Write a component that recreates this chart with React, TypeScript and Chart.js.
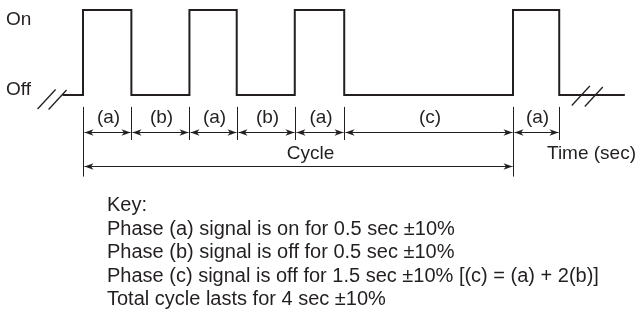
import React, { useEffect, useRef } from "react";
import { Chart, registerables } from "chart.js";

Chart.register(...registerables);

// Signal (time in seconds, level: 1 = On, 0 = Off)
const signalTimes = [-0.19, 0, 0.45, 0.99, 1.43, 1.97, 2.43, 4.0, 4.43, 5.04];
const signalLevels = [0, 1, 0, 1, 0, 1, 0, 1, 0, 0];
const levelLabels = ["On", "Off"];
const levelValues = [1, 0];

// Phase dimensioning
const phaseEdges = [0, 0.45, 0.99, 1.43, 1.97, 2.43, 4.0, 4.43];
const phaseLabels = ["(a)", "(b)", "(a)", "(b)", "(a)", "(c)", "(a)"];
const cycleBounds = [0, 4.0];
const cycleLabel = "Cycle";
const axisLabel = "Time (sec)";

const keyLines = [
  "Key:",
  "Phase (a) signal is on for 0.5 sec \u00b110%",
  "Phase (b) signal is off for 0.5 sec \u00b110%",
  "Phase (c) signal is off for 1.5 sec \u00b110% [(c) = (a) + 2(b)]",
  "Total cycle lasts for 4 sec \u00b110%",
];

const INK = "#231f20";
const FONT = '19px "Liberation Sans", Arial, sans-serif';
const KEY_FONT = '20px "Liberation Sans", Arial, sans-serif';

// level-units of the annotation rows (below the Off level)
const TICK_TOP = -0.14;
const TICK_BOTTOM = -0.53;
const TICK_BOTTOM_LONG = -0.96;
const PHASE_ARROW_Y = -0.435;
const CYCLE_ARROW_Y = -0.835;

function arrowHead(ctx: CanvasRenderingContext2D, tipX: number, y: number, dir: number) {
  const L = 9;
  const W = 3.2;
  ctx.beginPath();
  ctx.moveTo(tipX, y);
  ctx.lineTo(tipX - dir * L, y - W);
  ctx.lineTo(tipX - dir * (L - 2.5), y);
  ctx.lineTo(tipX - dir * L, y + W);
  ctx.closePath();
  ctx.fill();
}

function dimArrow(ctx: CanvasRenderingContext2D, x1: number, x2: number, y: number) {
  ctx.beginPath();
  ctx.moveTo(x1 + 1, y);
  ctx.lineTo(x2 - 1, y);
  ctx.stroke();
  arrowHead(ctx, x1 + 1, y, -1);
  arrowHead(ctx, x2 - 1, y, 1);
}

const annotations = {
  id: "timingAnnotations",
  afterDraw(chart: any) {
    const ctx: CanvasRenderingContext2D = chart.ctx;
    const xs = chart.scales.x;
    const ys = chart.scales.y;
    const px = (v: number) => xs.getPixelForValue(v);
    const py = (v: number) => ys.getPixelForValue(v);
    ctx.save();
    ctx.strokeStyle = INK;
    ctx.fillStyle = INK;
    ctx.lineWidth = 1;

    // ticks
    phaseEdges.forEach((t) => {
      const long = cycleBounds.includes(t);
      const x = Math.round(px(t)) + 0.5;
      ctx.beginPath();
      ctx.moveTo(x, py(TICK_TOP));
      ctx.lineTo(x, py(long ? TICK_BOTTOM_LONG : TICK_BOTTOM));
      ctx.stroke();
    });

    // phase arrows + labels
    ctx.font = FONT;
    ctx.textAlign = "center";
    ctx.textBaseline = "alphabetic";
    for (let i = 0; i < phaseLabels.length; i++) {
      const x1 = Math.round(px(phaseEdges[i])) + 0.5;
      const x2 = Math.round(px(phaseEdges[i + 1])) + 0.5;
      const y = Math.round(py(PHASE_ARROW_Y)) + 0.5;
      dimArrow(ctx, x1, x2, y);
      ctx.fillText(phaseLabels[i], (x1 + x2) / 2 + 1, y - 9.5);
    }

    // cycle arrow
    {
      const x1 = Math.round(px(cycleBounds[0])) + 0.5;
      const x2 = Math.round(px(cycleBounds[1])) + 0.5;
      const y = Math.round(py(CYCLE_ARROW_Y)) + 0.5;
      dimArrow(ctx, x1, x2, y);
      ctx.fillText(cycleLabel, (x1 + x2) / 2 + 12, y - 8);
      ctx.textAlign = "right";
      ctx.fillText(axisLabel, 636, y - 8);
    }

    // level labels
    ctx.textAlign = "left";
    levelLabels.forEach((lab, i) => {
      ctx.fillText(lab, 6, py(levelValues[i]) + (i === 0 ? 15 : 0));
    });

    // break marks
    ctx.lineWidth = 1.3;
    const sx0 = px(signalTimes[0]);
    const sx1 = px(signalTimes[signalTimes.length - 1]);
    const off = py(0);
    const slash = (x: number, y: number) => {
      ctx.beginPath();
      ctx.moveTo(x - 9, y + 10);
      ctx.lineTo(x + 9, y - 9.5);
      ctx.stroke();
    };
    slash(sx0 - 16, off + 4);
    slash(sx0 - 5, off + 4.5);
    slash(sx1 - 44, off + 0.5);
    slash(sx1 - 31, off + 1.5);

    // key
    ctx.font = KEY_FONT;
    ctx.textAlign = "left";
    keyLines.forEach((line, i) => {
      ctx.fillText(line, 107, 211 + i * 23.5);
    });

    ctx.restore();
  },
};

export default function App() {
  const ref = useRef<HTMLCanvasElement | null>(null);
  useEffect(() => {
    if (!ref.current) return;
    const chart = new Chart(ref.current, {
      type: "scatter",
      data: {
        datasets: [
          {
            data: signalTimes.map((t, i) => ({ x: t, y: signalLevels[i] })),
            showLine: true,
            stepped: true,
            borderColor: INK,
            borderWidth: 2,
            pointRadius: 0,
            fill: false,
            clip: false as any,
          },
        ],
      },
      options: {
        responsive: false,
        animation: false,
        events: [],
        layout: { padding: 0 },
        plugins: { legend: { display: false }, tooltip: { enabled: false } },
        scales: {
          x: { type: "linear", display: false, min: -83 / 107.5, max: (638 - 83) / 107.5 },
          y: { type: "linear", display: false, min: (95 - 315) / 85, max: 95 / 85 },
        },
      },
      plugins: [annotations],
    });
    return () => chart.destroy();
  }, []);
  return (
    <canvas
      ref={ref}
      width={638}
      height={315}
      style={{ position: "fixed", left: 0, top: 0, width: 638, height: 315, background: "#fff" }}
    />
  );
}
